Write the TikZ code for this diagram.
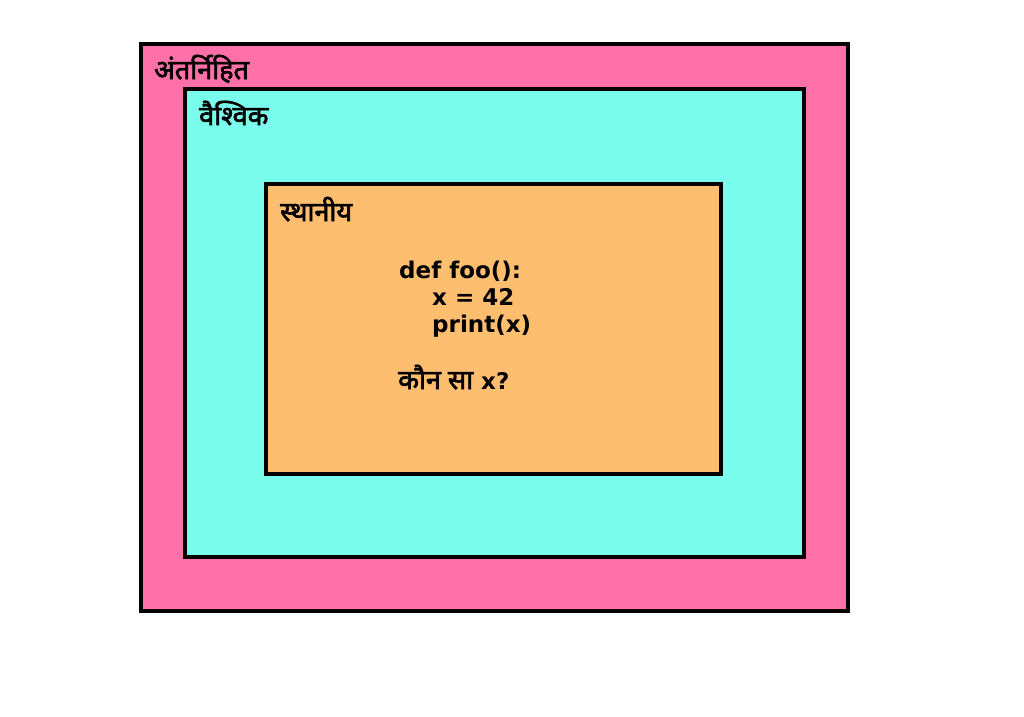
\documentclass[tikz,border=0pt]{standalone}
\usepackage{fontspec}
\setmainfont{DejaVu Sans}
\newfontfamily\deva[Script=Devanagari, FakeBold=2.5]{Noto Sans}
\usetikzlibrary{positioning}
\definecolor{builtinpink}{RGB}{255,112,168}
\definecolor{globalcyan}{RGB}{122,252,236}
\definecolor{localorange}{RGB}{253,190,112}

\begin{document}
\begin{tikzpicture}[
  x=1pt, y=-1pt,
  scopebox/.style={rectangle, draw=black, line width=4pt, inner sep=0pt},
  scopelabel/.style={anchor=base west, inner sep=0pt, font=\deva\fontsize{27}{32}\selectfont},
  codeline/.style={anchor=base west, inner sep=0pt, font=\bfseries\fontsize{23}{28}\selectfont}
]
\useasboundingbox[fill=white] (0,0) rectangle (1024,716);

\node[scopebox, fill=builtinpink, minimum width=707pt, minimum height=567pt] (builtin) at (494.5,327.5) {};
\node[scopebox, fill=globalcyan, minimum width=619pt, minimum height=468pt] (global) at (494.5,323) {};
\node[scopebox, fill=localorange, minimum width=455pt, minimum height=290pt] (local) at (493.5,329) {};

\node[scopelabel] (builtinlbl) at (154,79) {अंतर्निहित};
\node[scopelabel] (globallbl) at (199,125) {वैश्विक};
\node[scopelabel] (locallbl) at (280,221) {स्थानीय};

\node[codeline] (def) at (399,278) {def foo():};
\node[codeline] (assign) at (432,305) {x = 42};
\node[codeline] (print) at (432,332) {print(x)};
\node[codeline] (which) at (398,389) {{\deva\fontsize{27}{32}\selectfont कौन सा} x?};

\end{tikzpicture}
\end{document}
